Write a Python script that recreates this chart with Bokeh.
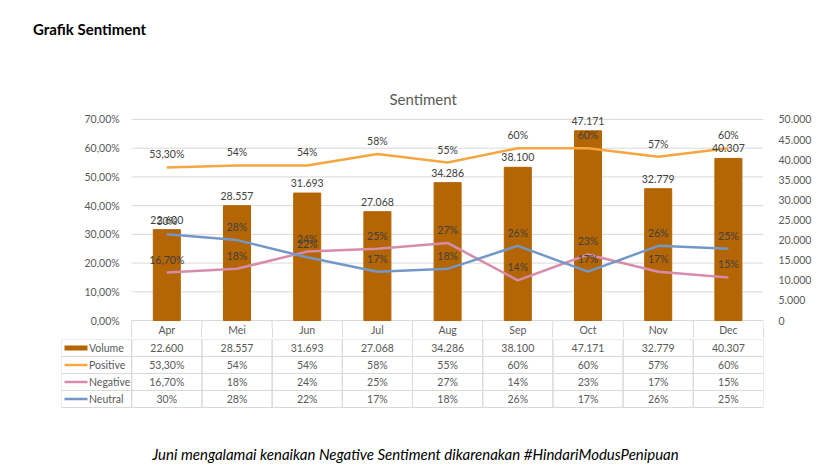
from bokeh.plotting import figure
from bokeh.models import (FactorRange, Range1d, LinearAxis, FixedTicker, Div,
                          LabelSet, ColumnDataSource)
from bokeh.layouts import column
from bokeh.embed import file_html
from bokeh.resources import INLINE
from bokeh.core.properties import value

# ---------------- data ----------------
months = ["Apr", "Mei", "Jun", "Jul", "Aug", "Sep", "Oct", "Nov", "Dec"]
volume = [22600, 28557, 31693, 27068, 34286, 38100, 47171, 32779, 40307]
positive = [53.3, 54, 54, 58, 55, 60, 60, 57, 60]
negative = [16.7, 18, 24, 25, 27, 14, 23, 17, 15]
neutral = [30, 28, 22, 17, 18, 26, 17, 26, 25]
series_names = ["Volume", "Positive", "Negative", "Neutral"]

pct_ticks = [0, 10, 20, 30, 40, 50, 60, 70]
pct_tick_labels = ["0,00%", "10,00%", "20,00%", "30,00%", "40,00%", "50,00%", "60,00%", "70,00%"]
vol_ticks = [0, 5000, 10000, 15000, 20000, 25000, 30000, 35000, 40000, 45000, 50000]
vol_tick_labels = ["0", "5.000", "10.000", "15.000", "20.000", "25.000", "30.000",
                   "35.000", "40.000", "45.000", "50.000"]

title_text = "Grafik Sentiment"
chart_title = "Sentiment"
caption = "Juni mengalamai kenaikan Negative Sentiment dikarenakan #HindariModusPenipuan"

# ---------------- styles / layout constants ----------------
FONT = "Lato"
BAR_C = "#B46504"
POS_C = "#F5A640"
NEG_C = "#D68CAA"
NEU_C = "#7398C8"
GRID_C = "#d9d9d9"
LBL_C = "#404040"
AX_C = "#595959"
W = 821
LEFT, RIGHT = 61, 58           # frame borders (px); frame holds legend column + months
KEY_COL = "legend"
factors = [KEY_COL] + months
COL_W = (W - LEFT - RIGHT) / len(factors)
ROW_H = 17
HEADER_H = 60
FRAME_TOP = 107                # page y of the chart frame top
ZERO_Y = 321                   # page y of the 0% line
PX_PER_PCT = (ZERO_Y - 119) / pct_ticks[-1]
VIEW_TOP = pct_ticks[-1] + (119 - FRAME_TOP) / PX_PER_PCT   # headroom for top labels
PAD_PX = 8                     # frame extends a little below 0% so the 0% label is not clipped
VIEW_BOT = -PAD_PX / PX_PER_PCT
n_key = factors.index(months[0])   # synthetic x where the month columns start
VOL_PER_PCT = vol_ticks[-1] / pct_ticks[-1]


def fmt_pct(v):
    if float(v).is_integer():
        return f"{int(v)}%"
    return f"{v:.2f}".replace(".", ",") + "%"


def fmt_vol(v):
    return f"{v:,}".replace(",", ".")


vol_labels = [fmt_vol(v) for v in volume]
pos_labels = [fmt_pct(v) for v in positive]
neg_labels = [fmt_pct(v) for v in negative]
neu_labels = [fmt_pct(v) for v in neutral]

# ---------------- header ----------------
header = Div(text=f'<div style="position:relative;left:33px;top:20px;font-family:Lato;'
                  f'font-weight:bold;font-size:15px;line-height:18px;color:black;'
                  f'white-space:nowrap">{title_text}</div>',
             width=W, height=HEADER_H, margin=0)

# ---------------- chart ----------------
P_H = 338 - HEADER_H
p = figure(width=W, height=P_H, title=chart_title,
           x_range=FactorRange(factors=factors, range_padding=0),
           y_range=Range1d(VIEW_BOT, VIEW_TOP),
           x_axis_location=None, y_axis_location="left",
           output_backend="svg", toolbar_location=None,
           min_border_left=LEFT, min_border_right=RIGHT,
           min_border_top=FRAME_TOP - HEADER_H,
           min_border_bottom=ROW_H - PAD_PX)
p.title.align = "left"
p.title.offset = 391 - LEFT - 2
p.title.standoff = 0
p.title.text_font = FONT
p.title.text_font_size = "15px"
p.title.text_font_style = "normal"
p.title.text_color = AX_C

p.extra_y_ranges = {"vol": Range1d(VIEW_BOT * VOL_PER_PCT, VIEW_TOP * VOL_PER_PCT)}
p.outline_line_color = None
p.xgrid.visible = False
p.ygrid.visible = False
# horizontal gridlines over the month columns only (0% line = top border of the table)
p.segment(x0=[n_key] * len(pct_ticks), x1=[len(factors)] * len(pct_ticks),
          y0=pct_ticks, y1=pct_ticks, line_color=GRID_C, line_width=1)

yl = p.yaxis[0]
yl.ticker = FixedTicker(ticks=pct_ticks)
yl.major_label_overrides = {t: l for t, l in zip(pct_ticks, pct_tick_labels)}
yl.fixed_location = n_key

yr = LinearAxis(y_range_name="vol", ticker=FixedTicker(ticks=vol_ticks),
                major_label_overrides={t: l for t, l in zip(vol_ticks, vol_tick_labels)})
p.add_layout(yr, "right")

for ax in (yl, yr):
    ax.axis_line_color = None
    ax.major_tick_line_color = None
    ax.minor_tick_line_color = None
    ax.major_label_text_color = AX_C
    ax.major_label_text_font = FONT
    ax.major_label_text_font_size = "10.5px"
yl.major_label_standoff = 6
yr.major_label_standoff = 9

# category axis = header row of the data table
centers = [n_key + i + 0.5 for i in range(len(months))]
bounds = [n_key + i for i in range(len(months) + 1)]
xa = LinearAxis(ticker=FixedTicker(ticks=centers, minor_ticks=bounds),
                bounds=(bounds[0], bounds[-1]),
                major_label_overrides={c: m for c, m in zip(centers, months)})
xa.axis_line_color = None
xa.major_tick_line_color = None
xa.major_tick_out = 0
xa.major_tick_in = 0
xa.minor_tick_line_color = GRID_C
xa.minor_tick_out = ROW_H - PAD_PX
xa.minor_tick_in = 0
xa.major_label_text_color = AX_C
xa.major_label_text_font = FONT
xa.major_label_text_font_size = "10.5px"
xa.major_label_standoff = -14
p.add_layout(xa, "below")
# upper part of the header-row cell separators (between 0% line and frame bottom)
p.segment(x0=bounds, x1=bounds, y0=[0] * len(bounds), y1=[VIEW_BOT] * len(bounds),
          line_color=GRID_C, line_width=1)

src = ColumnDataSource(dict(month=months, volume=volume, positive=positive,
                            negative=negative, neutral=neutral,
                            vol_lbl=vol_labels, pos_lbl=pos_labels,
                            neg_lbl=neg_labels, neu_lbl=neu_labels))

p.vbar(x="month", top="volume", bottom=0, width=0.385, y_range_name="vol",
       fill_color=BAR_C, line_color=BAR_C, source=src)
for col, c in (("positive", POS_C), ("negative", NEG_C), ("neutral", NEU_C)):
    p.line(x="month", y=col, line_color=c, line_width=2.5, line_join="round", source=src)

lbl_kw = dict(text_align="center", text_baseline="middle", text_color=LBL_C,
              text_font=value(FONT), text_font_size="10.5px", source=src)
p.add_layout(LabelSet(x="month", y="volume", text="vol_lbl", y_range_name="vol",
                      y_offset=10, **lbl_kw))
for col, lc in (("positive", "pos_lbl"), ("negative", "neg_lbl"), ("neutral", "neu_lbl")):
    p.add_layout(LabelSet(x="month", y=col, text=lc, y_offset=13, **lbl_kw))

# ---------------- data table (+ caption) ----------------
T_H = 468 - 2 - 338
n_rows = len(series_names)
below_units = (T_H - 1 - n_rows * ROW_H) / ROW_H
t = figure(width=W, height=T_H,
           x_range=FactorRange(factors=factors, range_padding=0),
           y_range=Range1d(-below_units, n_rows),
           x_axis_location=None, y_axis_location=None,
           output_backend="svg", toolbar_location=None,
           min_border_left=LEFT, min_border_right=RIGHT,
           min_border_top=1, min_border_bottom=0)
t.outline_line_color = None
t.grid.visible = False

row_center = {name: n_rows - i - 0.5 for i, name in enumerate(series_names)}
cell_x, cell_y, txt = [], [], []
for name, labels in zip(series_names, (vol_labels, pos_labels, neg_labels, neu_labels)):
    cell_x += months
    cell_y += [row_center[name]] * len(months)
    txt += labels
t.rect(x=cell_x + [KEY_COL] * n_rows, y=cell_y + [row_center[n] for n in series_names],
       width=1, height=1, fill_color=None, line_color=GRID_C, line_width=1)
t.text(x=cell_x, y=cell_y, text=txt, text_align="center", text_baseline="middle",
       text_color=AX_C, text_font=value(FONT), text_font_size="10.5px")

# legend column: keys + names
key_x0 = (64 - LEFT) / COL_W
key_x1 = (87 - LEFT) / COL_W
t.rect(x=[(key_x0 + key_x1) / 2], y=[row_center["Volume"]], width=key_x1 - key_x0,
       height=5 / ROW_H, fill_color=BAR_C, line_color=None)
line_names = series_names[1:]
t.segment(x0=[key_x0] * len(line_names), x1=[key_x1] * len(line_names),
          y0=[row_center[n] for n in line_names], y1=[row_center[n] for n in line_names],
          line_color=[POS_C, NEG_C, NEU_C], line_width=2.5)
t.text(x=[(88.5 - LEFT) / COL_W] * n_rows, y=[row_center[n] for n in series_names],
       text=series_names, text_align="left", text_baseline="middle",
       text_color=AX_C, text_font=value(FONT), text_font_size="10.5px")

# caption
cap_y = -(453 - 407) / ROW_H
t.text(x=[(415 - LEFT) / COL_W], y=[cap_y], text=[caption], text_align="center",
       text_baseline="middle", text_color="black", text_font=value(FONT),
       text_font_size="15px", text_font_style="italic")

layout = column(header, p, t, spacing=0)
open("out.html", "w").write(file_html(layout, INLINE))
